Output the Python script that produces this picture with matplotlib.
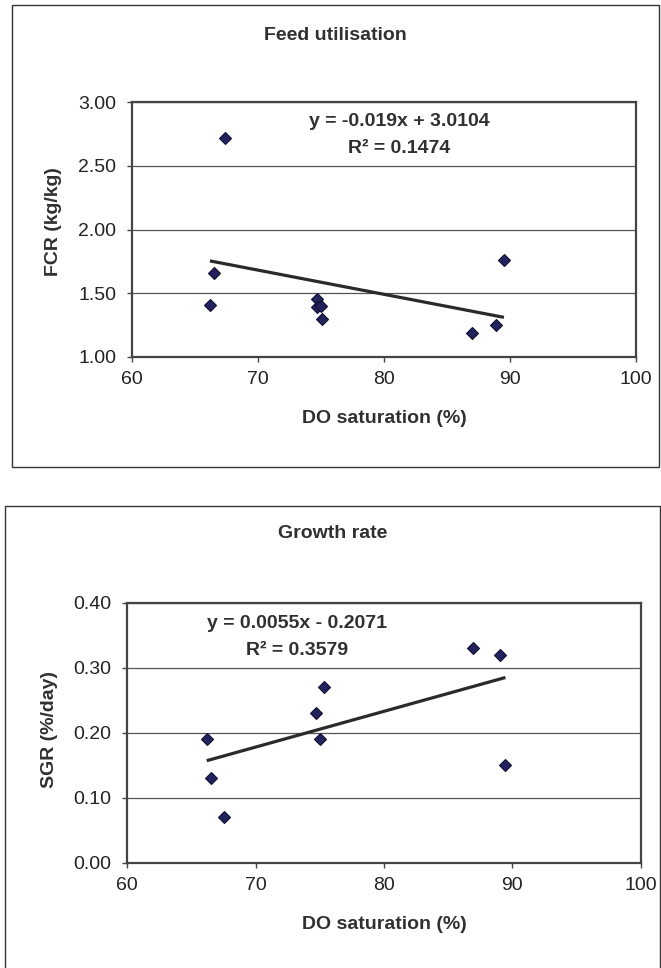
import matplotlib
matplotlib.use("Agg")
import matplotlib.pyplot as plt
from matplotlib.patches import Rectangle
import numpy as np

plt.rcParams['font.family'] = ['Liberation Sans', 'DejaVu Sans']

# ---- data: Feed utilisation ----
do_fcr = [66.17, 66.46, 67.33, 74.69, 74.69, 75.03, 75.11, 87.03, 88.93, 89.53]
fcr = [1.41, 1.66, 2.72, 1.45, 1.39, 1.40, 1.30, 1.19, 1.25, 1.76]
fcr_slope, fcr_intercept = -0.019, 3.0104
fcr_eq = "y = -0.019x + 3.0104"
fcr_r2 = "R² = 0.1474"

# ---- data: Growth rate ----
do_sgr = [66.19, 66.53, 67.50, 74.68, 75.01, 75.29, 86.95, 89.04, 89.46]
sgr = [0.19, 0.13, 0.07, 0.23, 0.19, 0.27, 0.33, 0.32, 0.15]
sgr_slope, sgr_intercept = 0.0055, -0.2071
sgr_eq = "y = 0.0055x - 0.2071"
sgr_r2 = "R² = 0.3579"

x_ticks = [60, 70, 80, 90, 100]
fcr_ticks = [1.00, 1.50, 2.00, 2.50, 3.00]
sgr_ticks = [0.00, 0.10, 0.20, 0.30, 0.40]

W, H = 661, 968
fig = plt.figure(figsize=(W / 100, H / 100), dpi=100)

def fx(px):
    return px / W

def fy(py):
    return 1 - py / H

# outer chart boxes
for (x0, y0, x1, y1) in [(12, 5, 659, 466.5), (5, 506, 660, 975)]:
    fig.patches.append(Rectangle((fx(x0), fy(y1)), fx(x1) - fx(x0), fy(y0) - fy(y1),
                                 transform=fig.transFigure, fill=False,
                                 edgecolor='#333333', linewidth=1.0, zorder=0))

marker_face = '#22225E'
marker_edge = '#101030'
text_col = '#303030'

def make_panel(box, xs, ys, slope, intercept, yticks, ytickfmt, title, title_y,
               ylabel, ylab_px, eq, r2, eq_px, eq_py1, eq_py2):
    x0, y0, x1, y1 = box
    ax = fig.add_axes([fx(x0), fy(y1), fx(x1) - fx(x0), fy(y0) - fy(y1)])
    ax.set_xlim(x_ticks[0], x_ticks[-1])
    ax.set_ylim(yticks[0], yticks[-1])
    ax.set_xticks(x_ticks)
    ax.set_yticks(yticks)
    ax.set_yticklabels([ytickfmt.format(v) for v in yticks])
    ax.yaxis.grid(True, color='#555555', linewidth=0.9)
    ax.set_axisbelow(True)
    for s in ax.spines.values():
        s.set_color('#444444')
        s.set_linewidth(1.6)
    ax.tick_params(axis='both', direction='out', length=3.5, width=1.0,
                   color='#444444', labelsize=14, labelcolor='#222222')
    ax.tick_params(axis='y', pad=8)
    ax.tick_params(axis='x', pad=7)
    # trend line from regression coefficients
    xx = np.array([min(xs), max(xs)])
    ax.plot(xx, slope * xx + intercept, color='#2a2a2a', linewidth=2.3,
            solid_capstyle='butt', zorder=3)
    ax.plot(xs, ys, linestyle='none', marker='D', markersize=6.2,
            markerfacecolor=marker_face, markeredgecolor=marker_edge,
            markeredgewidth=0.8, zorder=4)
    ax.set_xlabel("DO saturation (%)", fontsize=14, fontweight='bold', color=text_col)
    ax.xaxis.set_label_coords(0.5, -62 / (y1 - y0))
    ax.xaxis.label.set_va('center')
    ax.set_ylabel(ylabel, fontsize=14, fontweight='bold', color=text_col)
    ax.yaxis.set_label_coords((ylab_px[0] - x0) / (x1 - x0), (y1 - ylab_px[1]) / (y1 - y0))
    ax.yaxis.label.set_va('center')
    fig.text(fx((12 + 659) / 2 if title_y < 400 else (5 + 660) / 2), fy(title_y), title,
             ha='center', va='center', fontsize=14, fontweight='bold', color=text_col)
    fig.text(fx(eq_px), fy(eq_py1), eq, ha='center', va='center', fontsize=14,
             fontweight='bold', color=text_col)
    fig.text(fx(eq_px), fy(eq_py2), r2, ha='center', va='center', fontsize=14,
             fontweight='bold', color=text_col)
    return ax

make_panel((132.3, 102.3, 635.7, 356.7), do_fcr, fcr, fcr_slope, fcr_intercept,
           fcr_ticks, "{:.2f}", "Feed utilisation", 35, "FCR (kg/kg)", (53, 222),
           fcr_eq, fcr_r2, 399, 121.7, 148.3)
make_panel((127.3, 602.7, 640.7, 862.7), do_sgr, sgr, sgr_slope, sgr_intercept,
           sgr_ticks, "{:.2f}", "Growth rate", 533, "SGR (%/day)", (50, 730),
           sgr_eq, sgr_r2, 297, 623.3, 650.7)

fig.savefig("out.png", dpi=100)
